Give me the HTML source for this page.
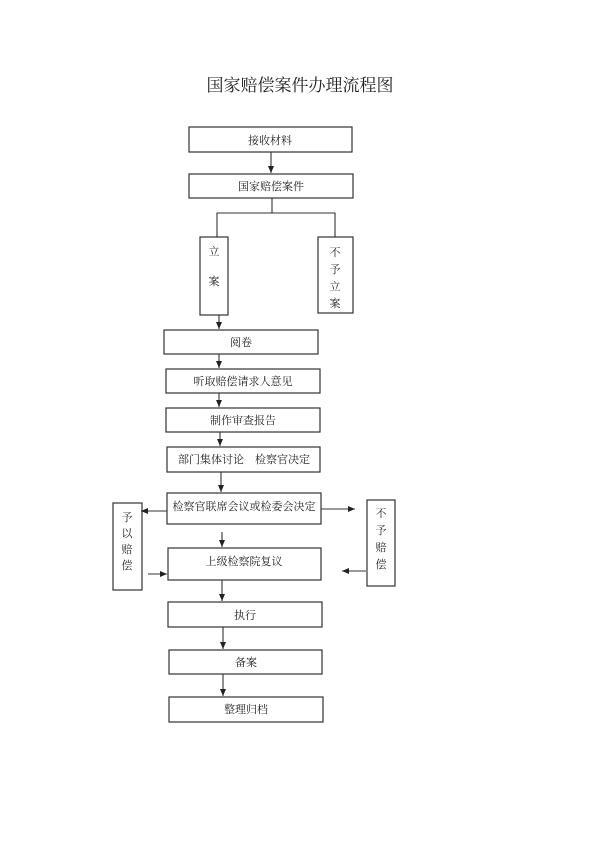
<!DOCTYPE html>
<html><head><meta charset="utf-8"><style>
html,body{margin:0;padding:0;background:#fff;}
svg{display:block;}
text{font-family:"Liberation Serif","Noto Serif CJK SC","Noto Sans CJK SC",serif;fill:#222;}
</style></head><body>
<svg width="600" height="842" viewBox="0 0 600 842" xmlns="http://www.w3.org/2000/svg">
<defs><marker id="a" markerWidth="8" markerHeight="8" refX="7" refY="4" orient="auto" markerUnits="userSpaceOnUse"><path d="M0,1 L7,4 L0,7 Z" fill="#222"/></marker></defs>
<text x="300" y="91" text-anchor="middle" font-size="17">国家赔偿案件办理流程图</text>
<g fill="none" stroke="#333" stroke-width="1.2">
<rect x="189" y="127" width="163" height="25"/>
<rect x="189" y="174" width="164" height="24"/>
<rect x="200" y="237" width="28" height="78"/>
<rect x="318" y="237" width="35" height="76"/>
<rect x="164" y="330" width="154" height="24"/>
<rect x="166" y="369" width="154" height="24"/>
<rect x="166" y="408" width="154" height="24"/>
<rect x="167" y="447" width="153" height="25"/>
<rect x="167" y="493" width="154" height="31"/>
<rect x="113" y="503" width="29" height="87"/>
<rect x="367" y="500" width="28" height="86"/>
<rect x="168" y="548" width="153" height="32"/>
<rect x="168" y="602" width="154" height="25"/>
<rect x="169" y="650" width="153" height="24"/>
<rect x="169" y="697" width="154" height="25"/>
</g>
<g stroke="#333" stroke-width="1.1" fill="none">
<line x1="271" y1="152" x2="271" y2="173" marker-end="url(#a)"/>
<polyline points="272,198 272,213 217,213 217,237"/>
<polyline points="272,213 335,213 335,237"/>
<line x1="219" y1="315" x2="219" y2="329" marker-end="url(#a)"/>
<line x1="219" y1="354" x2="219" y2="368" marker-end="url(#a)"/>
<line x1="219" y1="393" x2="219" y2="407" marker-end="url(#a)"/>
<line x1="220" y1="432" x2="220" y2="446" marker-end="url(#a)"/>
<line x1="221" y1="472" x2="221" y2="492" marker-end="url(#a)"/>
<line x1="167" y1="511" x2="141" y2="511" marker-end="url(#a)"/>
<line x1="321" y1="509" x2="355" y2="509" marker-end="url(#a)"/>
<line x1="222" y1="532" x2="222" y2="547" marker-end="url(#a)"/>
<line x1="148" y1="574" x2="167" y2="574" marker-end="url(#a)"/>
<line x1="366" y1="571" x2="342" y2="571" marker-end="url(#a)"/>
<line x1="222" y1="580" x2="222" y2="601" marker-end="url(#a)"/>
<line x1="223" y1="627" x2="223" y2="649" marker-end="url(#a)"/>
<line x1="223" y1="674" x2="223" y2="696" marker-end="url(#a)"/>
</g>
<g font-size="11" text-anchor="middle">
<text x="270" y="144">接收材料</text>
<text x="271" y="190">国家赔偿案件</text>
<text x="214" y="255">立</text>
<text x="214" y="285">案</text>
<text x="335" y="256">不</text>
<text x="335" y="273">予</text>
<text x="335" y="290">立</text>
<text x="335" y="307">案</text>
<text x="241" y="346">阅卷</text>
<text x="243" y="385">听取赔偿请求人意见</text>
<text x="243" y="424">制作审查报告</text>
<text x="244" y="463">部门集体讨论　检察官决定</text>
<text x="244" y="510">检察官联席会议或检委会决定</text>
<text x="127" y="521">予</text>
<text x="127" y="537">以</text>
<text x="127" y="553">赔</text>
<text x="127" y="569">偿</text>
<text x="381" y="517">不</text>
<text x="381" y="534">予</text>
<text x="381" y="551">赔</text>
<text x="381" y="568">偿</text>
<text x="244" y="565">上级检察院复议</text>
<text x="245" y="619">执行</text>
<text x="246" y="666">备案</text>
<text x="246" y="713">整理归档</text>
</g>
</svg>
</body></html>
